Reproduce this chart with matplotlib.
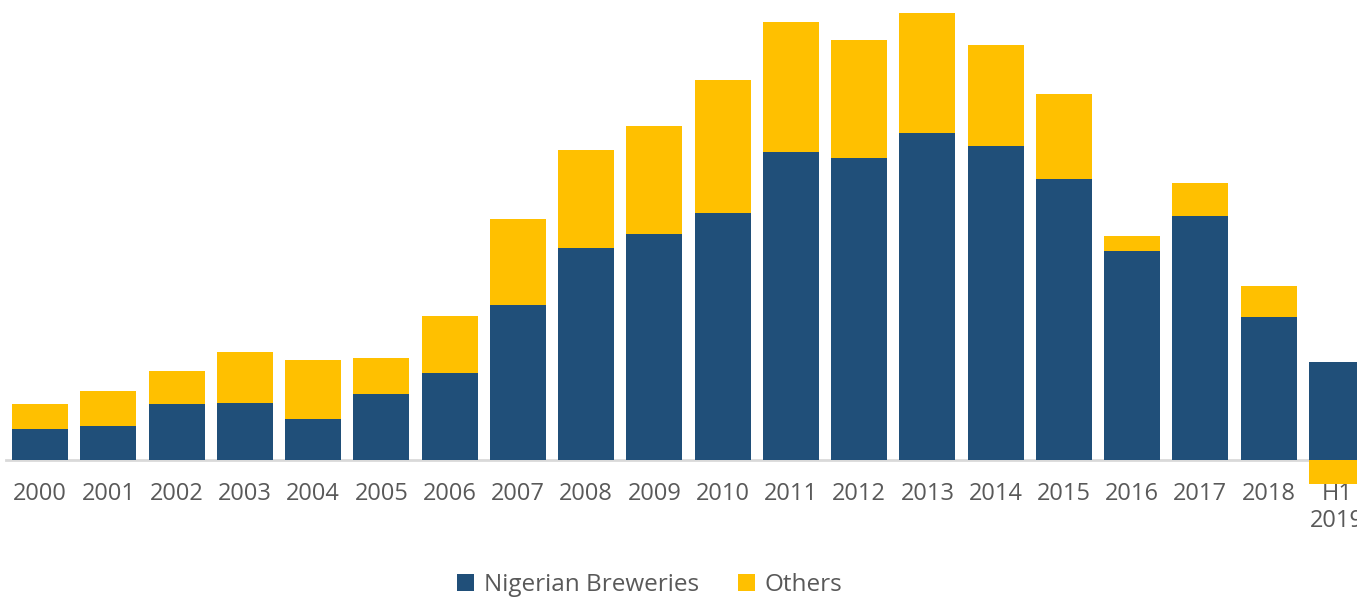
import numpy as np
import matplotlib.pyplot as plt

# categories and series (arbitrary units)
years = ["2000", "2001", "2002", "2003", "2004", "2005", "2006", "2007", "2008", "2009",
         "2010", "2011", "2012", "2013", "2014", "2015", "2016", "2017", "2018", "H1\n2019"]
nigerian_breweries = [3.1, 3.4, 5.6, 5.7, 4.1, 6.6, 8.7, 15.5, 21.2, 22.6,
                      24.7, 30.8, 30.2, 32.7, 31.4, 28.1, 20.9, 24.4, 14.3, 9.8]
others = [2.5, 3.5, 3.3, 5.1, 5.9, 3.6, 5.7, 8.6, 9.8, 10.8,
          13.3, 13.0, 11.8, 12.0, 10.1, 8.5, 1.5, 3.3, 3.1, -2.4]

BLUE = "#204F79"
GOLD = "#FFC000"
GREY_TEXT = "#595959"

plt.rcParams["font.family"] = ["Open Sans", "DejaVu Sans"]

fig = plt.figure(figsize=(13.57, 5.98), dpi=100)
W, H = 1357, 598
base_px = 460
ax = fig.add_axes([6 / W, (H - base_px) / H, 1 - 6 / W, base_px / H])

x = np.arange(len(years))
nb = np.array(nigerian_breweries)
ot = np.array(others)
# positive "others" stack on top of NB, negative ones hang below zero
ot_bottom = np.where(ot >= 0, nb, 0)

ax.bar(x, nb, width=0.82, color=BLUE, label="Nigerian Breweries", clip_on=False, zorder=2)
ax.bar(x, ot, bottom=ot_bottom, width=0.82, color=GOLD, label="Others", clip_on=False, zorder=2)

ax.set_xlim(-0.5, (W - 40) / 68.26)
ax.set_ylim(0, 46)

for side in ["top", "right", "left"]:
    ax.spines[side].set_visible(False)
ax.spines["bottom"].set_color("#D9D9D9")
ax.spines["bottom"].set_linewidth(2)
ax.spines["bottom"].set_zorder(1)

ax.set_yticks([])
ax.set_xticks(x)
ax.set_xticklabels(years, fontsize=17, color=GREY_TEXT, linespacing=1.15)
ax.tick_params(axis="x", length=0, pad=16)

fig.legend(loc="center", bbox_to_anchor=(650 / W, 1 - 585 / H), ncol=2, frameon=False,
           fontsize=17.5, labelcolor=GREY_TEXT, handlelength=0.7, handleheight=0.7,
           handletextpad=0.4, columnspacing=1.6)

fig.savefig("out.png", dpi=100)
